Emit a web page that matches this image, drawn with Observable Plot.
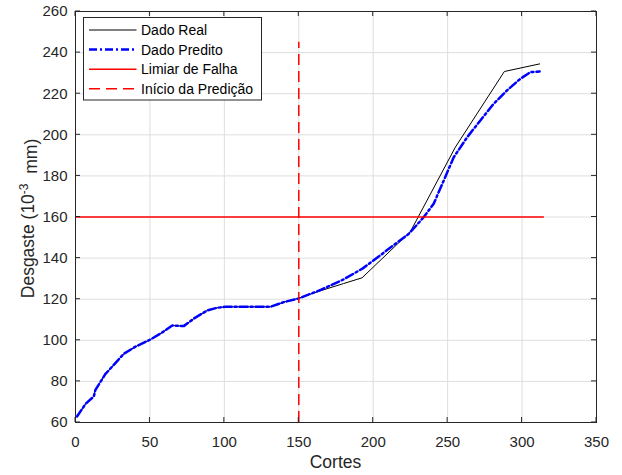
<!DOCTYPE html>
<html>
<head>
<meta charset="utf-8">
<script src="https://cdn.jsdelivr.net/npm/d3@7"></script>
<script src="https://cdn.jsdelivr.net/npm/@observablehq/plot@0.6"></script>
<style>
  html, body { margin: 0; padding: 0; background: #fff; }
  #chart { position: relative; width: 622px; height: 475px; }
</style>
</head>
<body>
<div id="chart"></div>
<script>
// ---- data ----
const realX = [1, 6.7, 12.3, 13.4, 20, 32.4, 40, 50.4, 58, 65, 72.7, 80, 88.4, 95, 100.7, 131, 140, 150, 165, 180, 192.5, 225, 255.2, 288.1, 311.8];
const realY = [62.9, 69, 72.7, 75.9, 83.5, 93.4, 96.8, 100.4, 103.7, 107.2, 106.9, 110.8, 114.5, 115.8, 116.3, 116.3, 118.6, 120.5, 124.2, 127.6, 130.4, 152.9, 194, 230.8, 234.5];
const predX = [1, 6.7, 12.3, 13.4, 20, 32.4, 40, 50.4, 58, 65, 72.7, 80, 88.4, 95, 100.7, 131, 140, 150, 165, 180, 193, 205, 215, 223.9, 233.9, 240.6, 247.4, 254.1, 263.1, 272, 280.9, 289.9, 298.9, 305.6, 311.8];
const predY = [62.9, 69, 72.7, 75.9, 83.5, 93.4, 96.8, 100.4, 103.7, 107.2, 106.9, 110.8, 114.5, 115.8, 116.3, 116.3, 118.6, 120.4, 124.6, 129.6, 135, 141.5, 147, 151.8, 159.9, 166.4, 177.8, 189.1, 198.8, 207, 215.1, 221.6, 227.3, 230.5, 230.8];
const limiarY = 160;
const limiarX = [0, 315];
const inicioX = 150;
const inicioY = [60, 245];
const xTicks = [0, 50, 100, 150, 200, 250, 300, 350];
const yTicks = [60, 80, 100, 120, 140, 160, 180, 200, 220, 240, 260];
const legendLabels = ["Dado Real", "Dado Predito", "Limiar de Falha", "Início da Predição"];

const real = realX.map((x, i) => ({x, y: realY[i]}));
const pred = predX.map((x, i) => ({x, y: predY[i]}));

const FONT = "'Liberation Sans', Arial, Helvetica, sans-serif";
const TXT = "#262626";

const plot = Plot.plot({
  width: 622,
  height: 475,
  marginLeft: 75,
  marginRight: 26,
  marginTop: 11,
  marginBottom: 53,
  style: {fontFamily: FONT, fontSize: "15px", color: TXT, background: "#fff"},
  x: {domain: [0, 350]},
  y: {domain: [60, 260]},
  marks: [
    Plot.ruleX(xTicks.slice(1, -1), {stroke: "#dedede", strokeWidth: 1}),
    Plot.ruleY(yTicks.slice(1, -1), {stroke: "#dedede", strokeWidth: 1}),
    Plot.axisX({ticks: xTicks, tickSize: 0, tickPadding: 14, fontSize: 15, fill: TXT, label: null}),
    Plot.axisY({ticks: yTicks, tickSize: 0, tickPadding: 8, fontSize: 15, fill: TXT, label: null}),
    Plot.line(real, {x: "x", y: "y", stroke: "#000", strokeWidth: 1}),
    Plot.line(pred, {x: "x", y: "y", stroke: "#0000ff", strokeWidth: 2.5, strokeDasharray: "8,3,2,3"}),
    Plot.ruleY([limiarY], {x1: limiarX[0], x2: limiarX[1], stroke: "#ff0000", strokeWidth: 1.5}),
    Plot.ruleX([inicioX], {y1: inicioY[0], y2: inicioY[1], stroke: "#ff0000", strokeWidth: 1.5, strokeDasharray: "11,6"}),
    Plot.frame({stroke: TXT, strokeWidth: 1})
  ]
});

document.getElementById("chart").appendChild(plot);

const svg = d3.select(plot);
const sx = plot.scale("x"), sy = plot.scale("y");
const x0 = sx.apply(0), x1 = sx.apply(350), y0 = sy.apply(60), y1 = sy.apply(260);
const TL = 5;

// inward ticks on all four sides
const tg = svg.append("g").attr("stroke", TXT).attr("stroke-width", 1);
xTicks.forEach(v => {
  const px = sx.apply(v);
  tg.append("line").attr("x1", px).attr("x2", px).attr("y1", y0).attr("y2", y0 - TL);
  tg.append("line").attr("x1", px).attr("x2", px).attr("y1", y1).attr("y2", y1 + TL);
});
yTicks.forEach(v => {
  const py = sy.apply(v);
  tg.append("line").attr("x1", x0).attr("x2", x0 + TL).attr("y1", py).attr("y2", py);
  tg.append("line").attr("x1", x1).attr("x2", x1 - TL).attr("y1", py).attr("y2", py);
});

// axis labels
svg.append("text")
  .attr("x", (x0 + x1) / 2).attr("y", 468)
  .attr("text-anchor", "middle").attr("fill", TXT)
  .style("font-family", FONT).style("font-size", "17.5px")
  .text("Cortes");

const yl = svg.append("text")
  .attr("transform", `translate(34,${(y0 + y1) / 2 + 2}) rotate(-90)`)
  .attr("text-anchor", "middle").attr("fill", TXT)
  .style("font-family", FONT).style("font-size", "17.5px");
yl.append("tspan").text("Desgaste (10");
yl.append("tspan").attr("dy", "-0.5em").style("font-size", "12px").text("-3");
yl.append("tspan").attr("dy", "0.5em").text("\u00a0 mm)");

// legend
const lg = svg.append("g").attr("transform", "translate(83.5,17.5)");
lg.append("rect").attr("width", 178).attr("height", 82.5)
  .attr("fill", "#fff").attr("stroke", TXT).attr("stroke-width", 1);
const styles = [
  {stroke: "#000", w: 1, dash: null},
  {stroke: "#0000ff", w: 2.5, dash: "8,3,2,3"},
  {stroke: "#ff0000", w: 1.5, dash: null},
  {stroke: "#ff0000", w: 1.5, dash: "11,6"}
];
legendLabels.forEach((lab, i) => {
  const cy = 12.5 + i * 19.6;
  const s = styles[i];
  const ln = lg.append("line").attr("x1", 5.5).attr("x2", 53).attr("y1", cy).attr("y2", cy)
    .attr("stroke", s.stroke).attr("stroke-width", s.w);
  if (s.dash) ln.attr("stroke-dasharray", s.dash);
  lg.append("text").attr("x", 57.5).attr("y", cy).attr("dy", "0.35em")
    .attr("text-anchor", "start")
    .attr("fill", "#000").style("font-family", FONT).style("font-size", "14px").text(lab);
});
</script>
</body>
</html>
